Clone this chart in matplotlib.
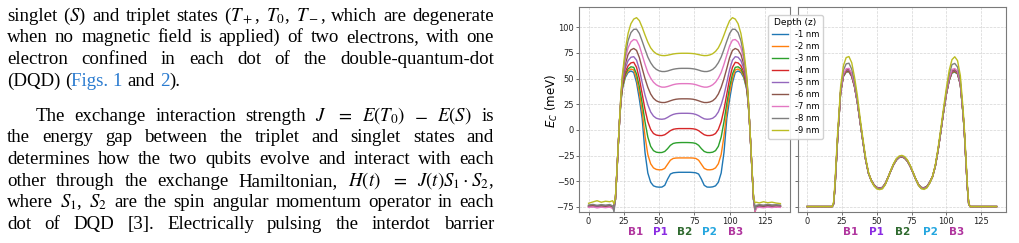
import matplotlib
matplotlib.use("Agg")
import matplotlib.pyplot as plt

# position along the device (nm)
x_nm = [0, 3, 6, 9, 12, 15, 17, 18, 19, 20, 21, 22, 23, 24,
        26, 28, 30, 32, 34, 36, 38, 40, 42, 44, 46, 48, 50, 52, 54, 56, 58, 60, 62, 64, 66, 68,
        70, 72, 74, 76, 78, 80, 82, 84, 86, 88, 90, 92, 94, 96, 98, 100, 102, 104, 106, 108, 110, 112,
        113, 114, 115, 116, 117, 118, 119, 121, 124, 127, 130, 133, 136]

depths = ['-1 nm', '-2 nm', '-3 nm', '-4 nm', '-5 nm', '-6 nm', '-7 nm', '-8 nm', '-9 nm']
depth_colors = ['#1f77b4', '#ff7f0e', '#2ca02c', '#d62728', '#9467bd',
                '#8c564b', '#e377c2', '#7f7f7f', '#bcbd22']

# left panel, E_C (meV) per depth
ec_a_1 = [-74.5, -74.0, -74.8, -74.3, -74.6, -74.2, -75.0,
          -74.5, -68, -43, -16, 10, 28, 40,
          51, 56, 57.4, 56, 46, 30, 11, -22, -42, -51, -54.5, -55.5, -55.8, -55.7, -54, -48, -43, -41.8, -41.5, -41.3, -41.3, -41.3,
          -41.3, -41.3, -41.5, -41.8, -43, -48, -54, -55.7, -55.8, -55.5, -54.5, -51, -42, -22, 11, 30, 46, 56, 57.4, 56, 51, 40,
          28, 10, -16, -43, -68, -75.5, -74.4,
          -74.1, -74.6, -74.2, -74.7, -74.3, -74.5]
ec_a_2 = [-74.2, -74.6, -74.0, -74.5, -74.1, -74.7, -75.2,
          -74.8, -68, -43, -16, 10, 29, 41,
          52.5, 57.5, 59.3, 58.5, 50, 36, 18, -6, -24, -33, -37, -38.5, -38.9, -38.8, -37.5, -33.5, -29.5, -27.8, -27.4, -27.3, -27.3, -27.3,
          -27.3, -27.3, -27.4, -27.8, -29.5, -33.5, -37.5, -38.8, -38.9, -38.5, -37, -33, -24, -6, 18, 36, 50, 58.5, 59.3, 57.5, 52.5, 41,
          29, 10, -16, -43, -68, -76, -74.6,
          -74.2, -74.8, -74.3, -74.6, -74.1, -74.4]
ec_a_3 = [-73.8, -74.3, -74.6, -74.0, -74.4, -74.1, -74.8,
          -74.5, -68, -43, -16, 10, 30, 42,
          54, 59.5, 61.5, 61, 54.5, 42, 26, 8, -7, -16, -20.2, -21.7, -22.1, -22, -21, -18.3, -15, -13.2, -12.6, -12.4, -12.3, -12.3,
          -12.3, -12.4, -12.6, -13.2, -15, -18.3, -21, -22, -22.1, -21.7, -20.2, -16, -7, 8, 26, 42, 54.5, 61, 61.5, 59.5, 54, 42,
          30, 10, -16, -43, -68, -76.5, -74.3,
          -74.0, -74.5, -74.1, -74.6, -74.2, -74.3]
ec_a_4 = [-74.6, -74.1, -74.5, -74.8, -74.2, -74.6, -75.5,
          -75.5, -68, -43, -16, 10, 31, 44,
          56.5, 62.5, 65.3, 65.9, 61, 50, 35, 20, 8, 0.5, -3.5, -5, -5.5, -5.5, -4.7, -2.8, -0.7, 0.6, 1.1, 1.3, 1.3, 1.3,
          1.3, 1.3, 1.1, 0.6, -0.7, -2.8, -4.7, -5.5, -5.5, -5, -3.5, 0.5, 8, 20, 35, 50, 61, 65.9, 65.3, 62.5, 56.5, 44,
          31, 10, -16, -43, -68, -80, -75,
          -74.3, -74.7, -74.2, -74.5, -74.8, -74.4]
ec_a_5 = [-74.3, -74.8, -74.2, -74.6, -74.0, -74.5, -75.0,
          -75, -68, -43, -16, 10, 32, 46,
          60, 67.5, 70.8, 71.4, 68, 59, 46, 34, 24.5, 17.5, 13.5, 11.4, 10.6, 10.4, 10.8, 12.2, 13.9, 15.1, 15.8, 16.1, 16.2, 16.2,
          16.2, 16.1, 15.8, 15.1, 13.9, 12.2, 10.8, 10.4, 10.6, 11.4, 13.5, 17.5, 24.5, 34, 46, 59, 68, 71.4, 70.8, 67.5, 60, 46,
          32, 10, -16, -43, -68, -77, -74.8,
          -74.4, -74.1, -74.6, -74.3, -74.7, -74.2]
ec_a_6 = [-74.0, -74.4, -73.8, -74.3, -74.6, -74.0, -75.5,
          -76, -68, -43, -16, 10, 33, 48,
          64, 73.5, 78, 79.4, 77.5, 70.5, 60, 50, 41.5, 35, 30.8, 28.4, 27.2, 26.7, 26.7, 27.4, 28.4, 29.3, 29.9, 30.2, 30.3, 30.3,
          30.3, 30.2, 29.9, 29.3, 28.4, 27.4, 26.7, 26.7, 27.2, 28.4, 30.8, 35, 41.5, 50, 60, 70.5, 77.5, 79.4, 78, 73.5, 64, 48,
          33, 10, -16, -43, -68, -77.5, -74.5,
          -74.0, -74.4, -73.9, -74.3, -74.6, -74.1]
ec_a_7 = [-75.5, -75.0, -76.0, -75.3, -75.8, -75.2, -76.5,
          -78, -68, -43, -16, 10, 34, 50,
          69, 80, 85.8, 88.1, 87.5, 82, 73, 64, 56, 50.5, 46.5, 44, 42.5, 41.7, 41.7, 42.3, 43.2, 44.1, 44.7, 45, 45.1, 45.1,
          45.1, 45, 44.7, 44.1, 43.2, 42.3, 41.7, 41.7, 42.5, 44, 46.5, 50.5, 56, 64, 73, 82, 87.5, 88.1, 85.8, 80, 69, 50,
          34, 10, -16, -43, -68, -79.5, -76,
          -75.4, -75.9, -75.2, -75.7, -75.1, -75.5]
ec_a_8 = [-73.2, -72.6, -73.5, -72.8, -73.3, -72.7, -74.0,
          -80, -68, -43, -16, 10, 35, 52,
          73, 87, 94.8, 98, 98.2, 94, 86.5, 78.5, 71, 65.5, 61.5, 59, 57.6, 56.9, 56.9, 57.4, 58.3, 59.1, 59.6, 59.9, 60, 60,
          60, 59.9, 59.6, 59.1, 58.3, 57.4, 56.9, 56.9, 57.6, 59, 61.5, 65.5, 71, 78.5, 86.5, 94, 98.2, 98, 94.8, 87, 73, 52,
          35, 10, -16, -43, -68, -78, -73.5,
          -72.8, -73.3, -72.6, -73.1, -72.9, -73.2]
ec_a_9 = [-71.5, -70.2, -69.0, -70.5, -69.5, -70.0, -69.0,
          -72, -66, -42, -15, 11, 36, 54,
          78, 94, 103.5, 108, 109.4, 106.5, 100, 92.5, 85.5, 80, 76.5, 74.3, 73.1, 72.5, 72.4, 72.8, 73.4, 74, 74.4, 74.6, 74.7, 74.7,
          74.7, 74.6, 74.4, 74, 73.4, 72.8, 72.4, 72.5, 73.1, 74.3, 76.5, 80, 85.5, 92.5, 100, 106.5, 109.4, 108, 103.5, 94, 78, 54,
          36, 11, -15, -42, -66, -71, -70.5,
          -71.2, -70.0, -71.0, -70.4, -71.3, -71.8]

# right panel, E_C (meV) per depth
ec_b_1 = [-74.7, -74.7, -74.7, -74.7, -74.7, -74.7, -74.7,
          -74.7, -72, -55, -30, -5, 15, 36,
          52, 56.3, 56.5, 52, 42, 27, 8, -11, -29, -42, -49, -53.5, -56, -56.5, -56, -52.5, -46.5, -40, -34, -29.5, -27, -26.3,
          -27.6, -30.6, -35.5, -41.6, -48, -53.4, -56.1, -56.3, -55, -51, -45.5, -35.5, -20, -1.5, 18, 35, 48, 55.5, 56.3, 54.5, 44, 15,
          -5, -30, -55, -72, -74.7, -74.7, -74.7,
          -74.7, -74.7, -74.7, -74.7, -74.7, -74.7]
ec_b_2 = [-74.7, -74.7, -74.7, -74.7, -74.7, -74.7, -74.7,
          -74.7, -72, -55, -30, -5, 15, 36.1,
          52.3, 56.7, 56.9, 52.3, 42.2, 27.1, 8, -11, -29, -42, -49, -53.5, -56.1, -56.6, -56.1, -52.5, -46.5, -40, -34, -29.5, -26.9, -26.2,
          -27.5, -30.6, -35.5, -41.6, -48, -53.4, -56.2, -56.4, -55.1, -51, -45.5, -35.5, -20, -1.5, 18, 35.1, 48.3, 55.9, 56.7, 54.8, 44.2, 15.1,
          -5, -30, -55, -72, -74.7, -74.7, -74.7,
          -74.7, -74.7, -74.7, -74.7, -74.7, -74.7]
ec_b_3 = [-74.7, -74.7, -74.7, -74.7, -74.7, -74.7, -74.7,
          -74.7, -72, -55, -30, -5, 15.1, 36.2,
          52.6, 57.1, 57.3, 52.7, 42.4, 27.2, 8.1, -11, -29, -42, -49.1, -53.6, -56.2, -56.7, -56.2, -52.6, -46.5, -40, -34, -29.4, -26.8, -26.1,
          -27.4, -30.5, -35.5, -41.6, -48, -53.5, -56.3, -56.5, -55.2, -51.1, -45.5, -35.5, -20, -1.4, 18.1, 35.3, 48.6, 56.3, 57.1, 55.1, 44.4, 15.1,
          -5, -30, -55, -72, -74.7, -74.7, -74.7,
          -74.7, -74.7, -74.7, -74.7, -74.7, -74.7]
ec_b_4 = [-74.7, -74.7, -74.7, -74.7, -74.7, -74.7, -74.7,
          -74.7, -72, -55, -30, -5, 15.1, 36.4,
          52.9, 57.5, 57.8, 53.1, 42.7, 27.4, 8.1, -10.9, -29, -42, -49.1, -53.7, -56.3, -56.8, -56.3, -52.7, -46.6, -40, -33.9, -29.3, -26.7, -26.0,
          -27.3, -30.4, -35.4, -41.6, -48.1, -53.5, -56.4, -56.6, -55.3, -51.2, -45.6, -35.5, -20, -1.4, 18.1, 35.5, 48.9, 56.8, 57.6, 55.5, 44.7, 15.2,
          -5, -30, -55, -72, -74.7, -74.7, -74.7,
          -74.7, -74.7, -74.7, -74.7, -74.7, -74.7]
ec_b_5 = [-74.7, -74.7, -74.7, -74.7, -74.7, -74.7, -74.7,
          -74.7, -72, -55, -30, -5, 15.2, 36.5,
          53.3, 58, 58.3, 53.5, 43, 27.5, 8.2, -10.9, -29, -42.1, -49.2, -53.8, -56.4, -56.9, -56.4, -52.8, -46.6, -40, -33.9, -29.2, -26.6, -25.9,
          -27.2, -30.3, -35.4, -41.6, -48.1, -53.6, -56.5, -56.7, -55.4, -51.3, -45.6, -35.5, -19.9, -1.3, 18.2, 35.6, 49.3, 57.2, 58.1, 55.9, 44.9, 15.3,
          -5, -30, -55, -72, -74.7, -74.7, -74.7,
          -74.7, -74.7, -74.7, -74.7, -74.7, -74.7]
ec_b_6 = [-74.7, -74.7, -74.7, -74.7, -74.7, -74.7, -74.7,
          -74.7, -72, -55, -30, -5, 15.2, 36.7,
          53.7, 58.6, 58.9, 54, 43.3, 27.7, 8.2, -10.8, -29, -42.1, -49.3, -53.9, -56.5, -57.0, -56.5, -52.9, -46.7, -40, -33.8, -29.1, -26.5, -25.8,
          -27.1, -30.2, -35.3, -41.6, -48.2, -53.7, -56.6, -56.8, -55.5, -51.4, -45.7, -35.5, -19.9, -1.3, 18.2, 35.8, 49.7, 57.8, 58.7, 56.4, 45.2, 15.4,
          -5, -30, -55, -72, -74.7, -74.7, -74.7,
          -74.7, -74.7, -74.7, -74.7, -74.7, -74.7]
ec_b_7 = [-74.7, -74.7, -74.7, -74.7, -74.7, -74.7, -74.7,
          -74.7, -72, -55, -30, -5, 15.4, 37.1,
          54.5, 59.6, 60, 55, 43.9, 28, 8.4, -10.7, -29, -42.2, -49.4, -54.1, -56.7, -57.2, -56.7, -53.1, -46.8, -40, -33.7, -28.9, -26.3, -25.6,
          -26.9, -30, -35.2, -41.6, -48.3, -53.9, -56.8, -57, -55.7, -51.6, -45.8, -35.5, -19.8, -1.1, 18.4, 36.2, 50.5, 58.9, 59.8, 57.3, 45.8, 15.5,
          -5, -30, -55, -72, -74.7, -74.7, -74.7,
          -74.7, -74.7, -74.7, -74.7, -74.7, -74.7]
ec_b_8 = [-74.7, -74.7, -74.7, -74.7, -74.7, -74.7, -74.7,
          -74.7, -72, -55, -30, -5, 15.9, 38.6,
          58, 64.4, 65, 59.2, 46.7, 29.6, 8.9, -10.5, -29, -42.3, -49.6, -54.4, -57, -57.5, -57, -53.4, -47, -40, -33.5, -28.6, -26, -25.3,
          -26.6, -29.7, -35, -41.6, -48.5, -54.2, -57.1, -57.3, -56, -51.9, -46, -35.5, -19.6, -0.8, 18.9, 38, 54, 63.7, 64.8, 61.3, 48.3, 16.3,
          -5, -30, -55, -72, -74.7, -74.7, -74.7,
          -74.7, -74.7, -74.7, -74.7, -74.7, -74.7]
ec_b_9 = [-74.7, -74.7, -74.7, -74.7, -74.7, -74.7, -74.7,
          -74.7, -70, -51, -25, 0, 20, 42,
          62.5, 70.5, 71.5, 65.5, 51.5, 34, 12, -8, -27, -41, -49.5, -54.5, -57.5, -58.2, -57.5, -53.5, -47, -39.5, -33, -28, -25.5, -24.8,
          -26, -29.3, -34.5, -41, -48, -54, -57.3, -58, -56.5, -52, -45.5, -34.5, -18, 1.5, 22, 41, 58, 68.5, 71.3, 67.5, 53, 20,
          -1, -26, -52, -71, -74.7, -74.7, -74.7,
          -74.7, -74.7, -74.7, -74.7, -74.7, -74.7]

gate_names = ['B1', 'P1', 'B2', 'P2', 'B3']
gate_colors = ['#b0359e', '#8a2be2', '#2f6a2f', '#25a6df', '#b0359e']
gate_x_left = [33, 51, 68, 86, 104]
gate_x_right = [31.5, 50, 68.5, 88.5, 107]

plt.rcParams['mathtext.fontset'] = 'stix'
W, H = 1020, 243
fig = plt.figure(figsize=(W / 100, H / 100), dpi=100)
fig.patch.set_facecolor('white')
renderer = fig.canvas.get_renderer()

# ---- paper text on the left ----
body = dict(family='Liberation Serif', fontsize=13.6, va='baseline')
link = '#2a7bd0'


def text_w(t):
    return t.get_window_extent(renderer).width


tmp = fig.text(0, 0, 'a a', **body); w1 = text_w(tmp); tmp.remove()
tmp = fig.text(0, 0, 'aa', **body); w2 = text_w(tmp); tmp.remove()
space_w = w1 - w2


def put_line(tokens, y_px, x0=7, x1=494, justify=True):
    # tokens: (text, colour, space before)
    arts = [fig.text(0, 1 - y_px / H, s, color=c, **body) for s, c, _ in tokens]
    widths = [text_w(a) for a in arts]
    n_gaps = sum(1 for tk in tokens[1:] if tk[2])
    gap = space_w
    if justify and n_gaps:
        gap = max((x1 - x0 - sum(widths)) / n_gaps, 0.6 * space_w)
    x = x0
    for i, (a, w) in enumerate(zip(arts, widths)):
        if i and tokens[i][2]:
            x += gap
        a.set_x(x / W)
        x += w


def words(s):
    return [(w, 'black', True) for w in s.split(' ')]


put_line(words(r"singlet ($S$) and triplet states ($T_+$, $T_0$, $T_-$, which are degenerate"), 20.7)
put_line(words("when no magnetic field is applied) of two electrons, with one"), 42.4)
put_line(words("electron confined in each dot of the double-quantum-dot"), 64.1)
put_line([("(DQD)", 'black', True), ("(", 'black', True), ("Figs. 1", link, False),
          ("and", 'black', True), ("2", link, True), (").", 'black', False)], 85.8, justify=False)
put_line(words(r"The exchange interaction strength $J$ $=$ $E(T_0)$ $-$ $E(S)$ is"), 120.5, x0=36)
put_line(words("the energy gap between the triplet and singlet states and"), 142.2)
put_line(words("determines how the two qubits evolve and interact with each"), 163.9)
put_line(words(r"other through the exchange Hamiltonian, $H(t)$ $=$ $J(t)S_1\cdot{S_2}$,"), 185.6)
put_line(words(r"where $S_1$, $S_2$ are the spin angular momentum operator in each"), 207.3)
put_line(words("dot of DQD [3]. Electrically pulsing the interdot barrier"), 229.0)

# ---- the two panels ----
bottom, height = 1 - 212 / H, (212 - 7.3) / H
ax1 = fig.add_axes([579 / W, bottom, 211 / W, height])
ax2 = fig.add_axes([797.7 / W, bottom, 208.3 / W, height], sharey=ax1)

left_series = [ec_a_1, ec_a_2, ec_a_3, ec_a_4, ec_a_5, ec_a_6, ec_a_7, ec_a_8, ec_a_9]
right_series = [ec_b_1, ec_b_2, ec_b_3, ec_b_4, ec_b_5, ec_b_6, ec_b_7, ec_b_8, ec_b_9]

for ax, series, gx in ((ax1, left_series, gate_x_left), (ax2, right_series, gate_x_right)):
    for ys, c, lab in zip(series, depth_colors, depths):
        ax.plot(x_nm, ys, color=c, lw=1.0, label=lab)
    ax.set_xlim(-6.8, 142.8)
    ax.set_xticks([0, 25, 50, 75, 100, 125])
    ax.grid(True, ls='--', lw=0.5, color='#d4d4d4')
    ax.set_axisbelow(True)
    ax.tick_params(labelsize=6, length=2, width=0.6, pad=1.5, color='#555555', labelcolor='#222222')
    for s in ax.spines.values():
        s.set_color('#7a7a7a')
        s.set_linewidth(0.8)
    for name, col, xv in zip(gate_names, gate_colors, gx):
        ax.text(xv, -0.096, name, color=col, fontsize=7.5, fontweight='bold',
                ha='center', va='center', transform=ax.get_xaxis_transform())

ax1.set_ylim(-80, 119.5)
ax1.set_yticks([-75, -50, -25, 0, 25, 50, 75, 100])
ax2.tick_params(labelleft=False)
ax1.set_ylabel(r'$E_C$ (meV)', fontsize=8.5, math_fontfamily='dejavusans')
ax1.yaxis.set_label_coords(-0.092, 0.543)

handles, labels = ax1.get_legend_handles_labels()
fig.legend(handles, labels, title='Depth (z)', loc='upper left',
           bbox_to_anchor=(768.3 / W, 1 - 15 / H), borderaxespad=0,
           fontsize=6, title_fontsize=6.5, labelspacing=0.36, handlelength=2.0,
           borderpad=0.4, framealpha=0.9)

fig.savefig('out.png', dpi=100, facecolor='white')
